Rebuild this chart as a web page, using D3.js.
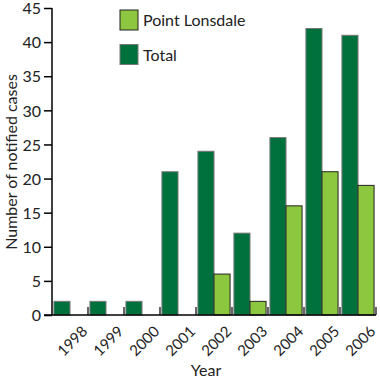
<!DOCTYPE html>
<html>
<head>
<meta charset="utf-8">
<script src="https://cdn.jsdelivr.net/npm/d3@7"></script>
<style>
  body { margin: 0; background: #fff; }
  svg { font-family: Lato, "Open Sans", sans-serif; }
</style>
</head>
<body>
<div id="chart"></div>
<script>
const years = ["1998", "1999", "2000", "2001", "2002", "2003", "2004", "2005", "2006"];
const totalCases = [2, 2, 2, 21, 24, 12, 26, 42, 41];
const lonsdaleCases = [0, 0, 0, 0, 6, 2, 16, 21, 19];
const yTicks = [0, 5, 10, 15, 20, 25, 30, 35, 40, 45];
const seriesNames = ["Point Lonsdale", "Total"];

const width = 380, height = 380;
const margin = {top: 8, right: 4, bottom: 65, left: 52};

const svg = d3.select("#chart").append("svg")
  .attr("width", width)
  .attr("height", height);

const x = d3.scaleBand()
  .domain(years)
  .range([margin.left, width - margin.right])
  .paddingInner(0)
  .paddingOuter(0);

const x1 = d3.scaleBand()
  .domain(["total", "lonsdale"])
  .range([0, x.bandwidth()])
  .paddingOuter(0.12)
  .paddingInner(0);

const y = d3.scaleLinear()
  .domain([0, 45])
  .range([height - margin.bottom, margin.top]);

const colorTotal = "#00703c";
const colorPL = "#8dc63f";

// bars
const g = svg.append("g");
years.forEach((yr, i) => {
  g.append("rect")
    .attr("x", x(yr) + x1("total"))
    .attr("y", y(totalCases[i]))
    .attr("width", x1.bandwidth())
    .attr("height", y(0) - y(totalCases[i]))
    .style("fill", colorTotal)
    .style("stroke", "#777")
    .style("stroke-width", 1);
  if (lonsdaleCases[i] > 0) {
    g.append("rect")
      .attr("x", x(yr) + x1("lonsdale"))
      .attr("y", y(lonsdaleCases[i]))
      .attr("width", x1.bandwidth())
      .attr("height", y(0) - y(lonsdaleCases[i]))
      .style("fill", colorPL)
      .style("stroke", "#222")
      .style("stroke-width", 1);
  }
});

// y axis
const yAxis = svg.append("g")
  .attr("transform", "translate(" + margin.left + ",0)")
  .call(d3.axisLeft(y).tickValues(yTicks).tickSize(8).tickPadding(3));
yAxis.select(".domain").attr("stroke", "#000").attr("stroke-width", 1.5).attr("d", "M0," + y(0) + "V" + y(45));
yAxis.selectAll(".tick line").attr("stroke", "#000").attr("stroke-width", 1.5);
yAxis.selectAll("text")
  .attr("dy", "0.36em")
  .style("font-size", "16px").style("fill", "#222").style("font-family", "Lato, sans-serif");

// x axis: line plus inner ticks at band boundaries
const xAxis = svg.append("g");
xAxis.append("line")
  .attr("x1", margin.left - 8).attr("x2", width - margin.right)
  .attr("y1", y(0)).attr("y2", y(0))
  .attr("stroke", "#000").attr("stroke-width", 1.5);
years.forEach((yr) => {
  const bx = x(yr) + x.bandwidth();
  xAxis.append("line")
    .attr("x1", bx).attr("x2", bx)
    .attr("y1", y(0)).attr("y2", y(0) - 8)
    .attr("stroke", "#000").attr("stroke-width", 1.2);
  xAxis.append("text")
    .attr("transform", "translate(" + (x(yr) + x.bandwidth() / 2 + 11) + "," + (y(0) + 10) + ") rotate(-45)")
    .attr("text-anchor", "end")
    .attr("dy", "0.7em")
    .style("font-size", "15px")
    .style("fill", "#222")
    .text(yr);
});

// axis titles
svg.append("text")
  .attr("x", 206)
  .attr("y", 376)
  .attr("text-anchor", "middle")
  .style("font-size", "16px")
  .style("fill", "#222")
  .text("Year");

svg.append("text")
  .attr("transform", "translate(17," + 162 + ") rotate(-90)")
  .attr("text-anchor", "middle")
  .style("font-size", "16px")
  .style("fill", "#222")
  .text("Number of notified cases");

// legend
const legend = svg.append("g");
const legendColors = [colorPL, colorTotal];
const legendStroke = ["#222", "#777"];
seriesNames.forEach((name, i) => {
  legend.append("rect")
    .attr("x", 120)
    .attr("y", 10 + i * 34.5)
    .attr("width", 18)
    .attr("height", 20)
    .style("fill", legendColors[i])
    .style("stroke", legendStroke[i])
    .style("stroke-width", 1);
  legend.append("text")
    .attr("x", 143)
    .attr("y", 26 + i * 34.5)
    .style("font-size", "16px")
    .style("fill", "#222")
    .text(name);
});
</script>
</body>
</html>
